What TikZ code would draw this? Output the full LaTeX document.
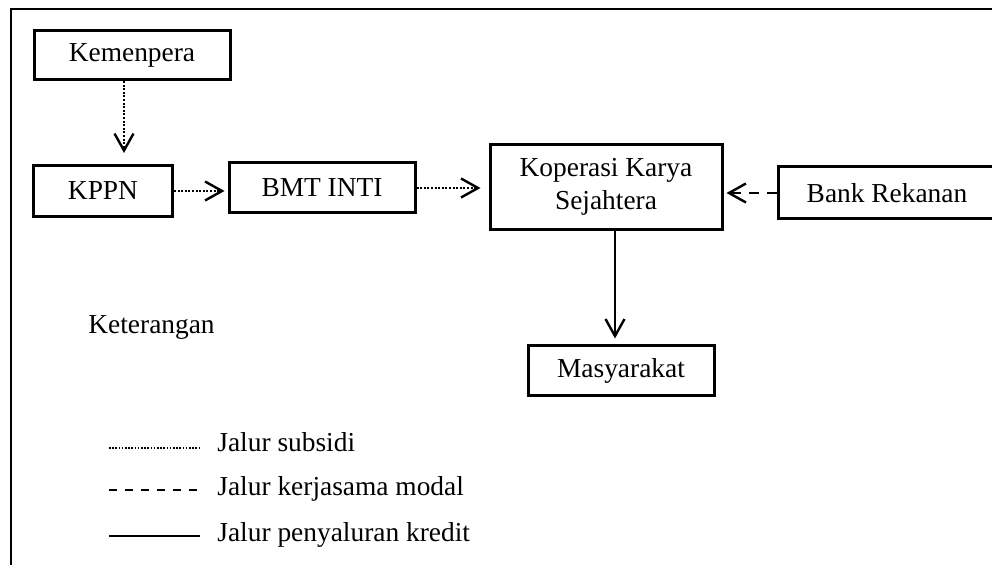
\documentclass[tikz,border=0pt]{standalone}
\usepackage{fontspec}
\setmainfont{Liberation Serif}
\usetikzlibrary{arrows.meta}

\begin{document}
\begin{tikzpicture}[x=0.5pt,y=-0.5pt,
  font=\fontsize{13.7}{16.5}\selectfont,
  box/.style={draw,line width=1.5pt,inner sep=0pt,align=center},
  tip/.style={-{Straight Barb[length=8.5pt,width=9.5pt,line width=1.2pt]},line width=1.2pt},
  sub/.style={tip,dash pattern=on 1pt off 0.8pt},
  modal/.style={tip,dash pattern=on 5pt off 4pt},
  kredit/.style={tip}]
  \useasboundingbox (0,0) rectangle (992,565);
  % frame
  \draw[line width=1.2pt] (11,565) -- (11,9) -- (992,9);

  \node[box,minimum width=98pt,minimum height=24.5pt] (kem) at (132,55) {Kemenpera};
  \node[box,minimum width=69.5pt,minimum height=25.5pt] (kppn) at (103,191) {KPPN};
  \node[box,minimum width=93pt,minimum height=25pt] (bmt) at (322,188) {BMT INTI};
  \node[box,minimum width=116pt,minimum height=42.5pt] (kop) at (606,187) {Koperasi Karya\\Sejahtera};
  \node[box,minimum width=109pt,minimum height=26pt] (bank) at (887,193) {Bank Rekanan};
  \node[box,minimum width=93pt,minimum height=25pt] (masy) at (621,371) {Masyarakat};

  \draw[sub,shorten >=5.5pt] ([xshift=-4pt]kem.south) -- ([xshift=-4pt]kem.south |- kppn.north);
  \draw[sub,shorten >=1.5pt] (kppn.east) -- (kppn.east -| bmt.west);
  \draw[sub,shorten >=4pt] (bmt.east) -- (bmt.east -| kop.west);
  \draw[modal,shorten >=1.5pt] (bank.west) -- (bank.west -| kop.east);
  \draw[kredit,shorten >=3pt] ([xshift=4.5pt]kop.south) -- ([xshift=4.5pt]kop.south |- masy.north);

  % keterangan
  \node[anchor=west,inner sep=0pt] (ket) at (88,327) {Keterangan};
  \coordinate (l1) at (109,448);
  \coordinate (l2) at (109,490);
  \coordinate (l3) at (109,536);
  \node[anchor=base west,inner sep=0pt] (t1) at (217,452) {Jalur subsidi};
  \node[anchor=base west,inner sep=0pt] (t2) at (217,496) {Jalur kerjasama modal};
  \node[anchor=base west,inner sep=0pt] (t3) at (217,542) {Jalur penyaluran kredit};
  \draw[line width=1pt,dash pattern=on 0.8pt off 0.8pt] (l1) -- ++(91,0);
  \draw[line width=1.2pt,dash pattern=on 4pt off 4pt] (l2) -- ++(91,0);
  \draw[line width=1.3pt] (l3) -- ++(91,0);
\end{tikzpicture}
\end{document}
